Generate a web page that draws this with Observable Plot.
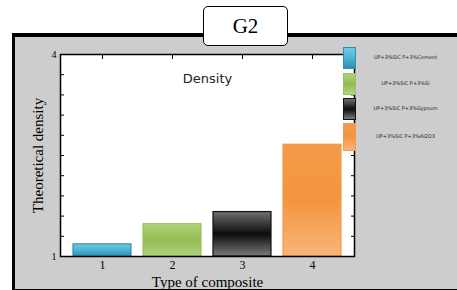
<!DOCTYPE html>
<html>
<head>
<meta charset="utf-8">
<script src="https://cdn.jsdelivr.net/npm/d3@7"></script>
<script src="https://cdn.jsdelivr.net/npm/@observablehq/plot@0.6"></script>
<style>
  html, body { margin: 0; padding: 0; width: 457px; height: 290px; overflow: hidden; background: #fff; }
  #frame { position: absolute; left: 12px; top: 33px; width: 470px; height: 252px;
           background: #cdcdcd; border-left: 3px solid #000; border-top: 4px solid #000; border-bottom: 2px solid #000; }
  #chart { position: absolute; left: 0; top: 0; }
  #title { position: absolute; left: 203px; top: 6px; width: 83px; height: 38px; background: #fff;
           border: 1.5px solid #000; border-radius: 5px; font-family: "Liberation Serif", serif; font-size: 21px;
           display: flex; align-items: center; justify-content: center; }
  .lg { position: absolute; left: 343px; width: 11px; border: 1px solid #222; }
  .lt { position: absolute; left: 358px; width: 95px; text-align: center; font-family: "DejaVu Sans", sans-serif;
        font-size: 5px; color: #222; }
</style>
</head>
<body>
<div id="frame"></div>
<div id="chart"></div>
<div id="title">G2</div>
<div id="legend"></div>
<script>
const categories = ["1", "2", "3", "4"];
const densities = [1.18, 1.48, 1.66, 2.66];
const seriesNames = ["UP+3%SiC P+3%Cement", "UP+3%SiC P+3%Si", "UP+3%SiC P+3%Gypsum", "UP+3%SiC P+3%Al2O3"];
const yTicks = [1, 1.3, 1.6, 1.9, 2.2, 2.5, 2.8, 3.1, 3.4, 3.7, 4];
const yTickLabels = [1, 4];
const gradients = [
  ["#72c9e2", "#4cb4d4", "#2f8fae"],
  ["#b0d27a", "#92bd52", "#b2d27f"],
  ["#707070", "#0c0c0c", "#7a7a7a"],
  ["#f39a48", "#f4953f", "#f8b47a"]
];
const strokes = ["#2f8fae", "#9ac25e", "#111", "#f39a48"];

const data = categories.map((c, i) => ({cat: c, value: densities[i]}));

const plot = Plot.plot({
  width: 457, height: 290,
  marginLeft: 60, marginRight: 103, marginTop: 54, marginBottom: 34,
  style: {background: "transparent", fontFamily: "Liberation Serif, serif"},
  x: {domain: categories, padding: 0.17},
  y: {domain: [1, 4]},
  marks: [
    Plot.frame({fill: "white", stroke: null}),
    ...data.map((d, i) => Plot.barY([d], {x: "cat", y1: 1, y2: "value", fill: `url(#grad${i})`, stroke: strokes[i], strokeWidth: 1.2})),
    Plot.frame({stroke: "black", strokeWidth: 1.5}),
    Plot.axisY({ticks: yTicks, tickSize: -4, text: null, label: null, stroke: "black"}),
    Plot.axisY({anchor: "right", ticks: yTicks, tickSize: -4, text: null, label: null, stroke: "black"}),
    Plot.axisY({ticks: yTickLabels, tickFormat: d => String(d), tickSize: 0, tickPadding: 4, fontSize: 10, label: "Theoretical density",
                labelAnchor: "center", labelArrow: "none", labelOffset: 28, fontFamily: "Liberation Serif, serif"}),
    Plot.axisX({anchor: "top", tickSize: -4, text: null, label: null, stroke: "black"}),
    Plot.axisX({anchor: "bottom", tickSize: 0, tickPadding: 4, fontSize: 12, label: "Type of composite",
                labelAnchor: "center", labelArrow: "none", labelOffset: 30, fontFamily: "Liberation Serif, serif"}),
    Plot.text(["Density"], {frameAnchor: "top", dy: 19, fontSize: 13, fontFamily: "DejaVu Sans, sans-serif", fill: "#222"})
  ]
});
// gradient definitions
const defs = d3.select(plot).insert("defs", ":first-child");
gradients.forEach((g, i) => {
  const lg = defs.append("linearGradient").attr("id", `grad${i}`).attr("x1", 0).attr("x2", 0).attr("y1", 0).attr("y2", 1);
  lg.append("stop").attr("offset", "0%").attr("stop-color", g[0]);
  lg.append("stop").attr("offset", "50%").attr("stop-color", g[1]);
  lg.append("stop").attr("offset", "100%").attr("stop-color", g[2]);
});
// axis title sizes
d3.select(plot).selectAll("[aria-label='y-axis label'] text").attr("font-size", 15);
d3.select(plot).selectAll("[aria-label='x-axis label'] text").attr("font-size", 15);
document.getElementById("chart").appendChild(plot);

// legend
const legend = document.getElementById("legend");
const swatchTops = [47, 73, 98, 123];
const swatchHeights = [20, 20, 20, 26];
seriesNames.forEach((name, i) => {
  const sw = document.createElement("div");
  sw.className = "lg";
  sw.style.top = swatchTops[i] + "px";
  sw.style.height = swatchHeights[i] + "px";
  sw.style.background = `linear-gradient(${gradients[i][0]}, ${gradients[i][1]}, ${gradients[i][2]})`;
  sw.style.borderColor = strokes[i];
  legend.appendChild(sw);
  const t = document.createElement("div");
  t.className = "lt";
  t.style.top = (swatchTops[i] + swatchHeights[i] / 2 - 3) + "px";
  t.textContent = name;
  legend.appendChild(t);
});
</script>
</body>
</html>
